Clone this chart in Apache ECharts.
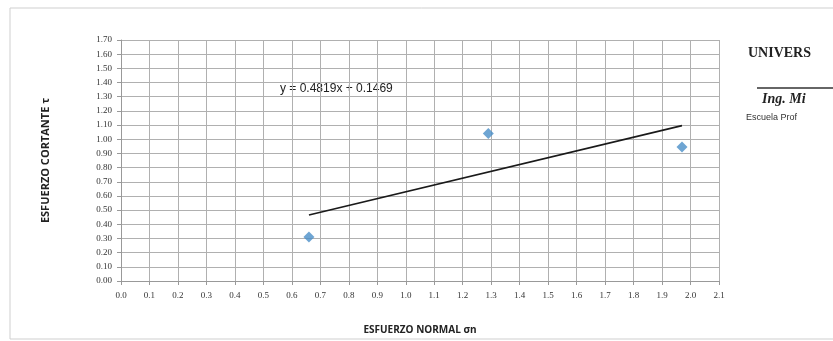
<!DOCTYPE html>
<html>
<head>
<meta charset="utf-8">
<script src="https://cdn.jsdelivr.net/npm/echarts@6/dist/echarts.min.js"></script>
<style>
  html, body { margin: 0; padding: 0; background: #fff; }
  #chart { width: 833px; height: 341px; }
</style>
</head>
<body>
<div id="chart"></div>
<script>
// ensayo de corte directo: esfuerzo normal vs esfuerzo cortante
const normalStress = [0.66, 1.29, 1.97]
const shearStress = [0.31, 1.04, 0.945]
// linea de tendencia (extremos, segun la ecuacion de Excel)
const trendX = [0.66, 1.97]
const trendY = [0.465, 1.096]
const equationText = 'y = 0.4819x + 0.1469'

const xTicks = { min: 0, max: 2.1, interval: 0.1 }
const yTicks = { min: 0, max: 1.7, interval: 0.1 }

const chart = echarts.init(document.getElementById('chart'), null, { renderer: 'canvas' })

const gridColor = '#b0b0b0'
const tickFont = { fontFamily: 'Liberation Serif', fontSize: 9, color: '#333' }

chart.setOption({
  animation: false,
  backgroundColor: '#fff',
  grid: { left: 121, right: 114, top: 40, bottom: 60 },
  xAxis: {
    type: 'value',
    min: xTicks.min,
    max: xTicks.max,
    interval: xTicks.interval,
    name: 'ESFUERZO NORMAL σn',
    nameLocation: 'middle',
    nameGap: 44,
    nameTextStyle: { fontFamily: 'Open Sans', fontWeight: 'bold', fontSize: 10, color: '#222' },
    axisLine: { lineStyle: { color: '#999' } },
    axisTick: { show: true, length: 4, lineStyle: { color: '#999' } },
    axisLabel: Object.assign({ margin: 10, formatter: v => v.toFixed(1) }, tickFont),
    splitLine: { show: true, lineStyle: { color: gridColor, width: 1 } }
  },
  yAxis: {
    type: 'value',
    min: yTicks.min,
    max: yTicks.max,
    interval: yTicks.interval,
    name: 'ESFUERZO CORTANTE τ',
    nameLocation: 'middle',
    nameGap: 70,
    nameRotate: 90,
    nameTextStyle: { fontFamily: 'Open Sans', fontWeight: 'bold', fontSize: 11, color: '#222' },
    axisLine: { show: true, lineStyle: { color: '#999' } },
    axisTick: { show: true, length: 4, lineStyle: { color: '#999' } },
    axisLabel: Object.assign({ margin: 9, formatter: v => v.toFixed(2) }, tickFont),
    splitLine: { show: true, lineStyle: { color: gridColor, width: 1 } }
  },
  series: [
    {
      type: 'line',
      data: trendX.map((x, i) => [x, trendY[i]]),
      symbol: 'none',
      lineStyle: { color: '#1a1a1a', width: 1.6 },
      z: 3
    },
    {
      type: 'scatter',
      data: normalStress.map((x, i) => [x, shearStress[i]]),
      symbol: 'diamond',
      symbolSize: 11,
      itemStyle: { color: '#4a8fc8' },
      z: 4
    }
  ],
  graphic: [
    // marco del grafico (continua fuera de la imagen a la derecha)
    { type: 'polyline', shape: { points: [[833, 8], [10, 8], [10, 339], [833, 339]] }, style: { stroke: '#cfcfcf', lineWidth: 1, fill: null } },
    { type: 'text', left: 280, top: 83, style: { text: equationText, font: '12px "Liberation Sans"', fill: '#222' } },
    // texto de la firma a la derecha (cortado en el original)
    { type: 'text', left: 748, top: 46, style: { text: 'UNIVERS', font: 'bold 14px "Liberation Serif"', fill: '#222' } },
    { type: 'line', shape: { x1: 757, y1: 88, x2: 833, y2: 88 }, style: { stroke: '#333', lineWidth: 1.5 } },
    { type: 'text', left: 762, top: 92, style: { text: 'Ing. Mi', font: 'italic bold 14px "Liberation Serif"', fill: '#222' } },
    { type: 'text', left: 746, top: 113, style: { text: 'Escuela Prof', font: '9px "Liberation Sans"', fill: '#333' } }
  ]
})

window.addEventListener('resize', () => chart.resize())
</script>
</body>
</html>
